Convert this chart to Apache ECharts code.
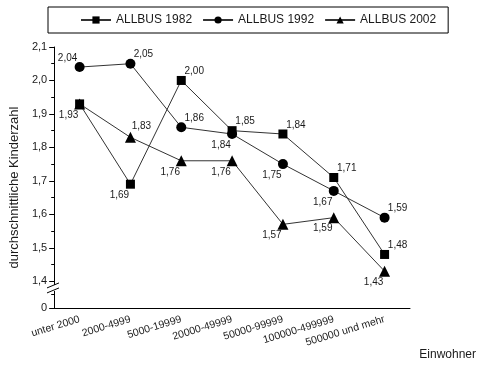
<!DOCTYPE html>
<html>
<head>
<meta charset="utf-8">
<script src="https://cdn.jsdelivr.net/npm/echarts@6/dist/echarts.min.js"></script>
<style>
  html, body { margin: 0; padding: 0; background: #fff; }
  #chart { width: 479px; height: 365px; }
</style>
</head>
<body>
<div id="chart"></div>
<script>
// Average number of children by municipality size, three survey waves
const categories = ['unter 2000', '2000-4999', '5000-19999', '20000-49999', '50000-99999', '100000-499999', '500000 und mehr'];
const seriesNames = ['ALLBUS 1982', 'ALLBUS 1992', 'ALLBUS 2002'];
const allbus1982 = [1.93, 1.69, 2.00, 1.85, 1.84, 1.71, 1.48];
const allbus1992 = [2.04, 2.05, 1.86, 1.84, 1.75, 1.67, 1.59];
const allbus2002 = [1.93, 1.83, 1.76, 1.76, 1.57, 1.59, 1.43];
const yMajorTicks = [1.4, 1.5, 1.6, 1.7, 1.8, 1.9, 2.0, 2.1];
const yMinorTicks = [1.45, 1.55, 1.65, 1.75, 1.85, 1.95, 2.05];

// The value axis is broken below 1,4; its foot stands for 0.
const axisFoot = 1.32;
const axisTop = 2.1;
const gridLeft = 53, gridRight = 69, gridTop = 47, gridBottom = 57;

// Where each value label sits around its marker: ur upper right, ul upper left,
// bl below left, t above, '' no label.
const placement1982 = ['', 'bl', 'ur', 'ur', 'ur', 'ur', 'ur'];
const placement1992 = ['ul', 'ur', 'ur', 'bl', 'bl', 'bl', 'ur'];
const placement2002 = ['bl', 't', 'bl', 'bl', 'bl', 'bl', 'bl'];
const labelOffsets = { ur: [13, -9], ul: [-12, -9], bl: [-11, 11], t: [11, -11] };

const fmt = v => v.toFixed(2).replace('.', ',');
const font = 'Liberation Sans, Arial, sans-serif';
const ink = '#1a1a1a';

function buildData(values, placement) {
  return values.map((v, i) => {
    const p = placement[i];
    return {
      value: v,
      label: p ? {
        show: true,
        position: 'inside',
        offset: labelOffsets[p],
        formatter: () => fmt(v),
        color: ink,
        fontSize: 10,
        fontFamily: font
      } : { show: false }
    };
  });
}

function lineSeries(name, values, placement, symbol, size) {
  return {
    name: name,
    type: 'line',
    data: buildData(values, placement),
    symbol: symbol,
    symbolSize: size,
    showAllSymbol: true,
    itemStyle: { color: '#000' },
    lineStyle: { color: '#333', width: 1 },
    emphasis: { disabled: true },
    animation: false,
    z: 3
  };
}

const chart = echarts.init(document.getElementById('chart'), null, { renderer: 'canvas' });

const option = {
  backgroundColor: '#fff',
  animation: false,
  legend: {
    data: seriesNames,
    left: 48,
    top: 7,
    padding: [7, 12, 7, 32],
    itemGap: 10,
    itemWidth: 30,
    itemHeight: 9,
    borderColor: '#000',
    borderWidth: 1,
    textStyle: { color: ink, fontSize: 12, fontFamily: font },
    selectedMode: false
  },
  grid: { left: gridLeft, right: gridRight, top: gridTop, bottom: gridBottom, containLabel: false },
  xAxis: [
    {
      type: 'category',
      data: categories,
      boundaryGap: true,
      axisLine: { lineStyle: { color: '#000', width: 1 } },
      axisTick: { alignWithLabel: true, length: 5, lineStyle: { color: '#000' } },
      axisLabel: {
        interval: 0,
        rotate: 17,
        margin: 11,
        color: ink,
        fontSize: 10.5,
        fontFamily: font
      },
      splitLine: { show: false }
    },
    {
      // boundary ticks between the categories
      type: 'category',
      data: categories,
      boundaryGap: true,
      position: 'bottom',
      axisLine: { show: false },
      axisTick: { length: 3, lineStyle: { color: '#000' } },
      axisLabel: { show: false },
      splitLine: { show: false }
    }
  ],
  yAxis: [
    {
      type: 'value',
      min: axisFoot,
      max: axisTop,
      axisLine: { show: true, lineStyle: { color: '#000', width: 1 } },
      axisTick: { show: true, length: 5, customValues: [axisFoot].concat(yMajorTicks), lineStyle: { color: '#000' } },
      axisLabel: {
        customValues: [axisFoot].concat(yMajorTicks),
        formatter: v => (v < 1.39 ? '0' : v.toFixed(1).replace('.', ',')),
        color: ink,
        fontSize: 11,
        fontFamily: font,
        margin: 7
      },
      splitLine: { show: false },
      name: 'durchschnittliche Kinderzahl',
      nameLocation: 'middle',
      nameGap: 30,
      nameTextStyle: { color: ink, fontSize: 13, fontFamily: font, padding: [0, 20, 0, 0] }
    },
    {
      // minor ticks
      type: 'value',
      min: axisFoot,
      max: axisTop,
      position: 'left',
      axisLine: { show: false },
      axisTick: { show: true, length: 3, customValues: yMinorTicks.concat([1.36]), lineStyle: { color: '#000' } },
      axisLabel: { show: false },
      splitLine: { show: false }
    }
  ],
  series: [
    lineSeries(seriesNames[0], allbus1982, placement1982, 'rect', 9),
    lineSeries(seriesNames[1], allbus1992, placement1992, 'circle', 10),
    lineSeries(seriesNames[2], allbus2002, placement2002, 'triangle', 11)
  ]
};

chart.setOption(option);

// Axis-break marker on the value axis between 0 and 1,4, plus the category axis title
const yb = chart.convertToPixel({ yAxisIndex: 0 }, 1.38);
chart.setOption({
  graphic: [
    {
      type: 'text',
      right: 3,
      bottom: 4,
      style: { text: 'Einwohner', fill: ink, font: '12px ' + font }
    },
    {
      type: 'rect',
      shape: { x: gridLeft - 1, y: yb - 3, width: 3, height: 6 },
      style: { fill: '#fff' },
      z: 10
    },
    {
      type: 'line',
      shape: { x1: gridLeft - 6, y1: yb, x2: gridLeft + 6, y2: yb - 5 },
      style: { stroke: '#000', lineWidth: 1 },
      z: 11
    },
    {
      type: 'line',
      shape: { x1: gridLeft - 6, y1: yb + 5, x2: gridLeft + 6, y2: yb },
      style: { stroke: '#000', lineWidth: 1 },
      z: 11
    }
  ]
});
</script>
</body>
</html>
